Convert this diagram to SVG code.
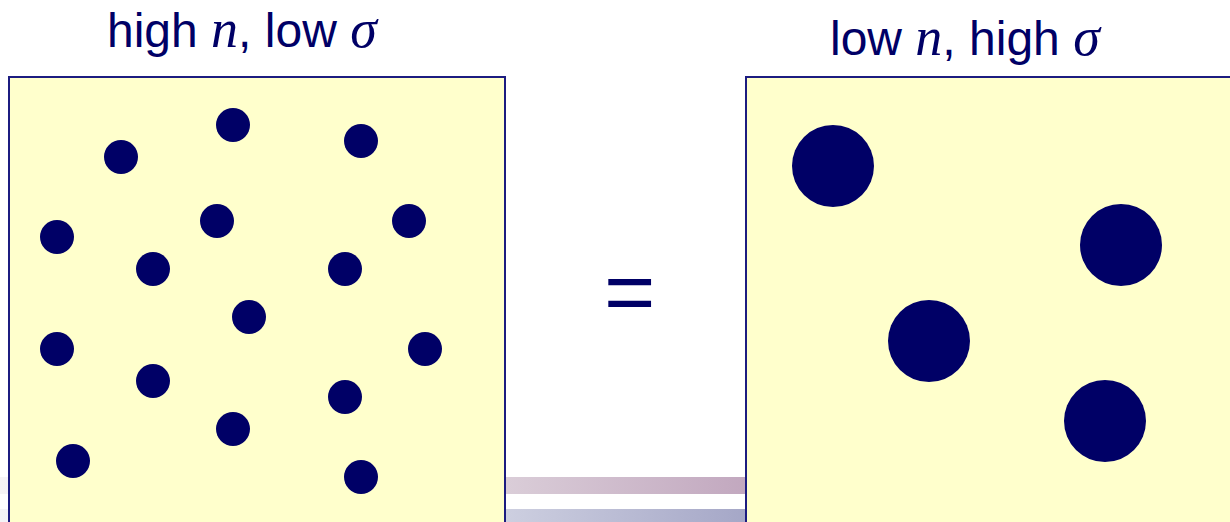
<svg xmlns="http://www.w3.org/2000/svg" width="1230" height="522" viewBox="0 0 1230 522">
<defs>
<linearGradient id="gTop" gradientUnits="userSpaceOnUse" x1="0" y1="0" x2="745" y2="0">
<stop offset="0" stop-color="#f6f4f6"/>
<stop offset="0.68" stop-color="#dacdd8"/>
<stop offset="1" stop-color="#c2a8bf"/>
</linearGradient>
<linearGradient id="gBot" gradientUnits="userSpaceOnUse" x1="0" y1="0" x2="745" y2="0">
<stop offset="0" stop-color="#f4f4f7"/>
<stop offset="0.68" stop-color="#cdcfe0"/>
<stop offset="1" stop-color="#a5a7c7"/>
</linearGradient>
</defs>
<style>
.box{fill:#ffffcc;stroke:#1c1c80;stroke-width:2}
.dot{fill:#000066}
.t{font-family:"Liberation Sans",Arial,sans-serif;font-size:48px;fill:#000066}
.m{font-family:"Liberation Serif","Times New Roman",serif;font-style:italic;font-size:54px}
</style>
<rect width="1230" height="522" fill="#ffffff"/>
<g id="bars">
<rect x="0" y="477" width="746" height="17" fill="url(#gTop)"/>
<rect x="0" y="509" width="746" height="13" fill="url(#gBot)"/>
</g>
<g id="left-box">
<rect class="box" x="9" y="77" width="496" height="460"/>
<g class="dot">
<circle cx="233" cy="125" r="17"/>
<circle cx="361" cy="141" r="17"/>
<circle cx="121" cy="157" r="17"/>
<circle cx="57" cy="237" r="17"/>
<circle cx="217" cy="221" r="17"/>
<circle cx="409" cy="221" r="17"/>
<circle cx="153" cy="269" r="17"/>
<circle cx="345" cy="269" r="17"/>
<circle cx="249" cy="317" r="17"/>
<circle cx="57" cy="349" r="17"/>
<circle cx="425" cy="349" r="17"/>
<circle cx="153" cy="381" r="17"/>
<circle cx="345" cy="397" r="17"/>
<circle cx="233" cy="429" r="17"/>
<circle cx="73" cy="461" r="17"/>
<circle cx="361" cy="477" r="17"/>
</g>
</g>
<g id="right-box">
<rect class="box" x="746" y="77" width="500" height="460"/>
<g class="dot">
<circle cx="833" cy="166" r="41"/>
<circle cx="1121" cy="245" r="41"/>
<circle cx="929" cy="341" r="41"/>
<circle cx="1105" cy="421" r="41"/>
</g>
</g>
<g id="labels">
<text class="t" x="107" y="47">high <tspan class="m">n</tspan>, low <tspan class="m">σ</tspan></text>
<text class="t" x="830" y="55">low <tspan class="m">n</tspan>, high <tspan class="m">σ</tspan></text>
<text x="604" y="322" style="font-family:'Liberation Sans',Arial,sans-serif;font-size:88px;fill:#000066">=</text>
</g>
</svg>
